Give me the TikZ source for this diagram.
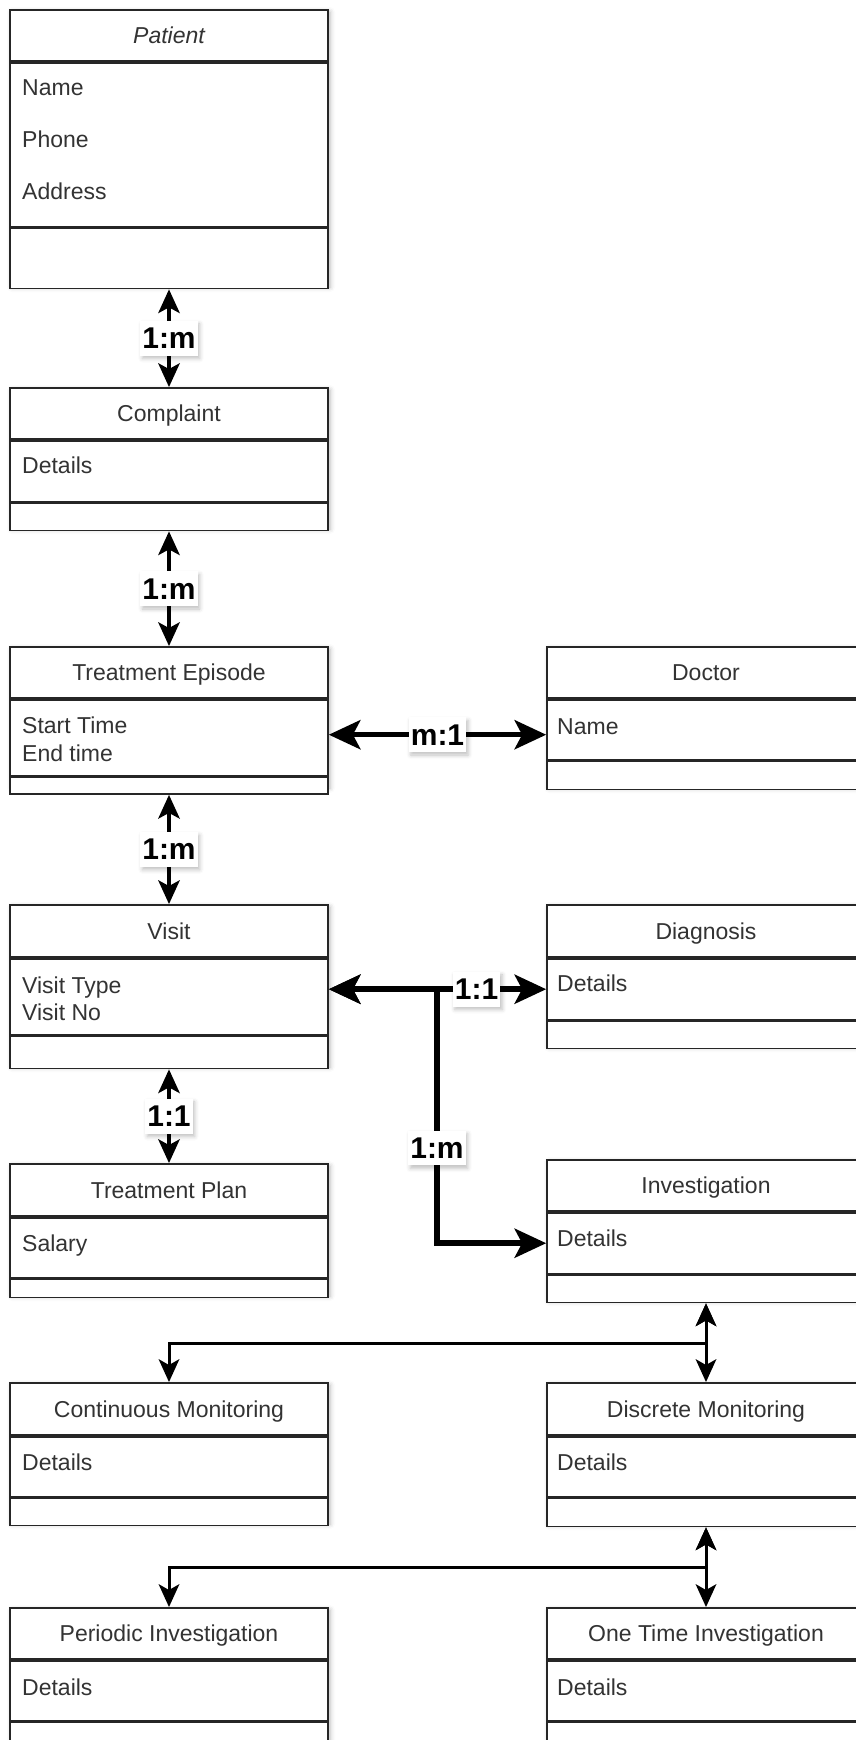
\documentclass[tikz,border=0pt]{standalone}
\usepackage{fontspec}
\setmainfont{Liberation Sans}
\usetikzlibrary{arrows.meta,shadows.blur}

% A UML class box: header, attribute compartment and empty operations compartment.
% #1 name, #2 centre x, #3 top y, #4 header height, #5 attribute height,
% #6 footer height, #7 title
\newcommand\umlclass[7]{%
  \path[classshadow] ({#2-159},#3) rectangle ++(318,{#4+#5+#6});
  \node[compart, anchor=north, minimum height=#4pt] (#1) at (#2,#3) {#7};
  \node[compart, anchor=north, minimum height=#5pt] (#1A) at (#1.south) {};
  \node[compart, anchor=north, minimum height=#6pt] (#1F) at (#1A.south) {};
}

\begin{document}
\begin{tikzpicture}[x=1pt, y=-1pt,
  classshadow/.style={blur shadow={shadow xshift=2pt, shadow yshift=-3pt,
      shadow blur radius=5pt, shadow opacity=28}},
  compart/.style={draw=black!85, line width=1.8pt, fill=white,
      minimum width=318pt, inner sep=0pt, text=black!80,
      font=\fontsize{23}{27}\selectfont, text height=16.5pt, text depth=0pt},
  attr/.style={anchor=base west, inner sep=0pt, text=black!80,
      font=\fontsize{23}{27}\selectfont},
  lbl/.style={fill=white, inner xsep=2pt, inner ysep=7pt, text=black,
      font=\bfseries\fontsize{30}{32}\selectfont,
      blur shadow={shadow xshift=2pt, shadow yshift=-3pt,
      shadow blur radius=4pt, shadow opacity=25}},
  conn/.style={draw=black, line width=3.6pt, <->,
      >={Stealth[length=24pt, width=22pt, inset=6pt, line width=0pt]}},
  busconn/.style={draw=black, line width=3pt, <->,
      >={Stealth[length=23pt, width=21pt, inset=6pt, line width=0pt]}},
  thickconn/.style={draw=black, line width=5.5pt, <->,
      >={Stealth[length=32pt, width=30pt, inset=8pt, line width=0pt]}},
]
\useasboundingbox (0,0) rectangle (856,1740);
\clip (0,0) rectangle (856,1740);

% classes
\umlclass{pat}{169}{9}{51}{164}{60}{\itshape Patient}
\umlclass{cmp}{169}{387}{51}{61}{27}{Complaint}
\umlclass{te}{169}{646}{51}{76}{12}{Treatment Episode}
\umlclass{doc}{706}{646}{51}{60}{28}{Doctor}
\umlclass{vis}{169}{904}{52}{76}{32}{Visit}
\umlclass{dia}{706}{904}{52}{61}{27}{Diagnosis}
\umlclass{tp}{169}{1163}{52}{60}{18}{Treatment Plan}
\umlclass{inv}{706}{1159}{51}{61}{27}{Investigation}
\umlclass{cm}{169}{1382}{52}{60}{27}{Continuous Monitoring}
\umlclass{dm}{706}{1382}{52}{60}{28}{Discrete Monitoring}
\umlclass{pi}{169}{1607}{51}{60}{30}{Periodic Investigation}
\umlclass{oti}{706}{1607}{51}{60}{30}{One Time Investigation}

% attributes
\node[attr] (patName)  at (22,95)   {Name};
\node[attr] (patPhone) at (22,147)  {Phone};
\node[attr] (patAddr)  at (22,199)  {Address};
\node[attr] (cmpDet)   at (22,473)  {Details};
\node[attr] (teStart)  at (22,733)  {Start Time};
\node[attr] (teEnd)    at (22,761)  {End time};
\node[attr] (docName)  at (557,734) {Name};
\node[attr] (visType)  at (22,993)  {Visit Type};
\node[attr] (visNo)    at (22,1020) {Visit No};
\node[attr] (diaDet)   at (557,991) {Details};
\node[attr] (tpSal)    at (22,1251) {Salary};
\node[attr] (invDet)   at (557,1246) {Details};
\node[attr] (cmDet)    at (22,1470) {Details};
\node[attr] (dmDet)    at (557,1470) {Details};
\node[attr] (piDet)    at (22,1695) {Details};
\node[attr] (otiDet)   at (557,1695) {Details};

% relationships of the main chain
\draw[conn] (patF.south) -- node[lbl]{1:m} (cmp.north);
\draw[conn] (cmpF.south) -- node[lbl]{1:m} (te.north);
\draw[conn] (teF.south)  -- node[lbl]{1:m} (vis.north);
\draw[conn] (visF.south) -- node[lbl]{1:1} (tp.north);

% episode to doctor
\draw[thickconn] ([yshift=3pt]teA.east) -- node[lbl]{m:1} ([yshift=-5pt]docA.west);

% visit to diagnosis and investigation
\draw[thickconn] (visA.east |- diaA.west) -- node[lbl, pos=0.68]{1:1} (diaA.west);
\coordinate (jx) at (437,1148);
\draw[thickconn] (visA.east |- diaA.west) -| (jx) node[lbl]{1:m} |- (invA.west);

% investigation specialisations
\coordinate (bus1) at (169,1343);
\draw[busconn] (invF.south) -- (dm.north);
\draw[busconn] (invF.south) |- (bus1) -- (cm.north);

\coordinate (bus2) at (169,1567);
\draw[busconn] (dmF.south) -- (oti.north);
\draw[busconn] (dmF.south) |- (bus2) -- (pi.north);
\end{tikzpicture}
\end{document}
